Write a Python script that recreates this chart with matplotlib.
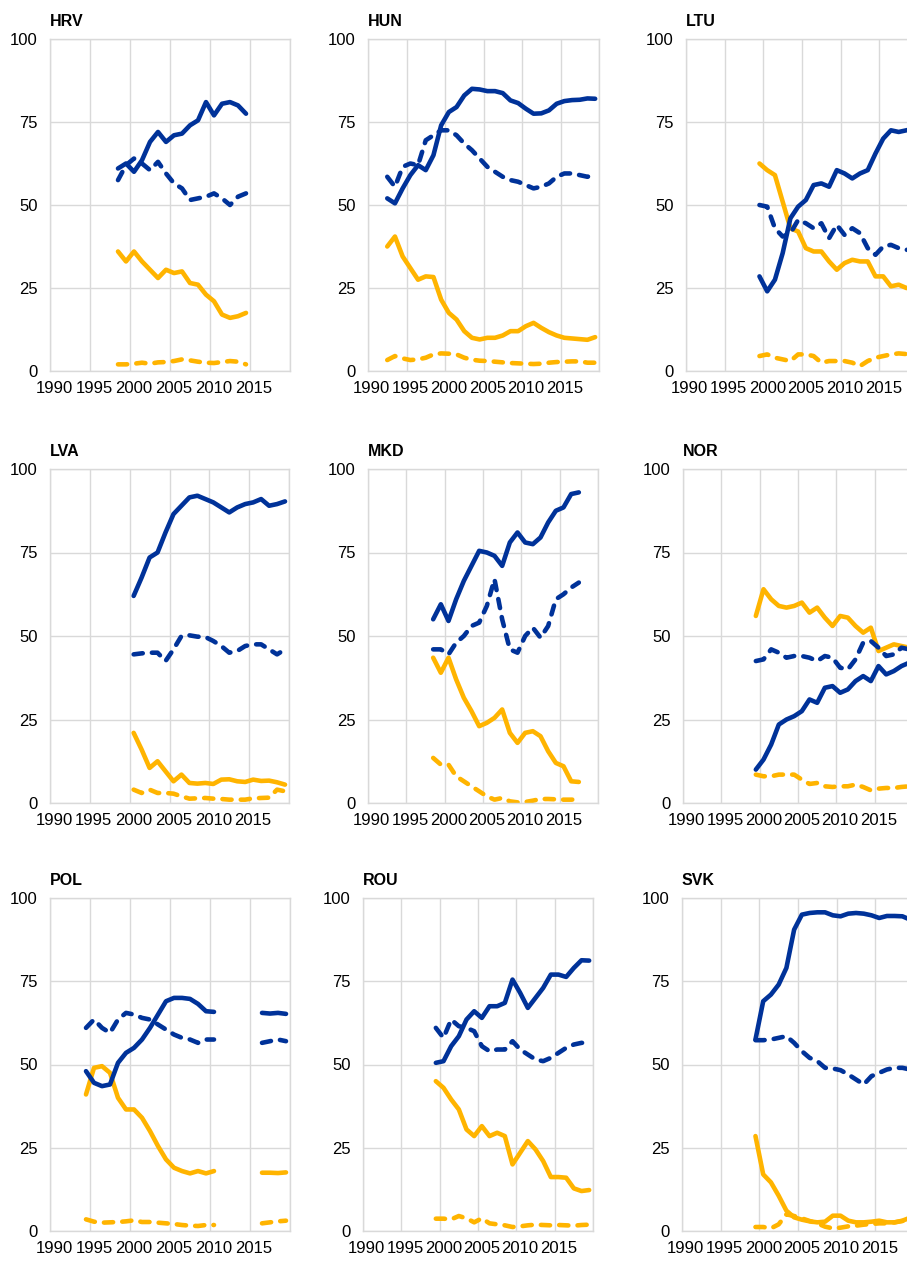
import numpy as np
import matplotlib
matplotlib.use("Agg")
import matplotlib.pyplot as plt
from matplotlib.ticker import FixedLocator

plt.rcParams['font.family'] = ['Liberation Sans', 'DejaVu Sans']

BLUE = '#003299'
YELLOW = '#FFB400'
GRID = '#d9d9d9'
nan = np.nan

# ---------------- data (annual, %) ----------------
countries = ['HRV', 'HUN', 'LTU', 'LVA', 'MKD', 'NOR', 'POL', 'ROU', 'SVK']
start_year = {'HRV': 1998, 'HUN': 1992, 'LTU': 1999, 'LVA': 2000, 'MKD': 1998,
              'NOR': 1999, 'POL': 1994, 'ROU': 1999, 'SVK': 1999}

HRV_blue_solid = [61, 62.5, 60, 63.5, 69, 72, 69, 71, 71.5, 74, 75.5, 81, 77, 80.5, 81, 80, 77.5]
HRV_blue_dash = [57.5, 62, 64, 62.5, 60.5, 63, 59.5, 56.5, 55, 51.5, 52, 52.5, 53.5, 52, 50, 52.5, 53.5]
HRV_yellow_solid = [36, 33, 36, 33, 30.5, 28, 30.5, 29.5, 30, 26.5, 26, 23, 21, 17, 16, 16.5, 17.5]
HRV_yellow_dash = [2, 2, 2.2, 2.5, 2.2, 2.6, 2.7, 3, 3.5, 3.2, 2.8, 2.5, 2.4, 2.7, 3, 2.8, 2.0]

HUN_blue_solid = [52, 50.5, 55, 59, 62, 60.5, 65, 74, 78, 79.5, 83, 85, 84.8, 84.3, 84.3, 83.7,
                  81.5, 80.7, 79, 77.5, 77.6, 78.5, 80.5, 81.3, 81.6, 81.7, 82.1, 82]
HUN_blue_dash = [58.5, 55.5, 61.5, 62.5, 62, 69.5, 71, 72.5, 72.5, 71, 68.5, 66.5, 64, 61.5, 60,
                 58.5, 57.5, 57, 56, 55, 55.5, 56.5, 58.5, 59.5, 59.5, 59, 58.5, 59.2]
HUN_yellow_solid = [37.5, 40.5, 34.5, 31, 27.5, 28.5, 28.3, 21.5, 17.5, 15.5, 12, 10, 9.5, 10, 10,
                    10.7, 12, 12, 13.5, 14.5, 13, 11.7, 10.7, 10, 9.8, 9.6, 9.4, 10.2]
HUN_yellow_dash = [3.3, 4.5, 3.8, 3.3, 3.5, 4, 5, 5.3, 5.2, 5, 4, 3.4, 3.1, 3, 2.8, 2.6, 2.4, 2.3,
                   2.2, 2.1, 2.2, 2.5, 2.7, 2.8, 2.9, 2.9, 2.5, 2.5]

LTU_blue_solid = [28.5, 24, 27.5, 35.5, 46, 49.5, 51.5, 56, 56.5, 55.5, 60.5, 59.5, 58, 59.5, 60.5,
                  65.5, 70, 72.5, 72, 72.5, 73]
LTU_blue_dash = [50, 49.5, 43, 40.5, 41.5, 45.5, 44.5, 43, 44.5, 40, 44, 41, 43, 41.5, 37, 35, 37.5,
                 38, 37, 36.5, 36.5]
LTU_yellow_solid = [62.5, 60.5, 59, 51, 43, 42, 37, 36, 36, 33, 30.5, 32.5, 33.5, 33, 33, 28.5, 28.5,
                    25.5, 26, 25, 25]
LTU_yellow_dash = [4.5, 5, 4, 3.5, 3, 5, 5, 4.5, 2.5, 3, 3, 3, 2.5, 1.5, 3, 4, 4.5, 5, 5.3, 5.1, 5]

LVA_blue_solid = [62, 67.5, 73.5, 75, 81, 86.5, 89, 91.5, 92, 91, 90, 88.5, 87, 88.5, 89.5, 90, 91,
                  89, 89.5, 90.3]
LVA_blue_dash = [44.5, 44.8, 45, 45, 42.5, 46, 50, 50.2, 49.8, 49.7, 48.5, 47, 45, 45.5, 47, 47.5,
                 47.5, 46, 44.5, 46]
LVA_yellow_solid = [21, 16, 10.5, 12.5, 9.5, 6.5, 8.5, 6, 5.8, 6, 5.7, 7, 7.1, 6.5, 6.3, 7, 6.6, 6.7,
                    6.2, 5.5]
LVA_yellow_dash = [4, 3, 4, 3, 3, 2.8, 2, 1.3, 1.4, 1.5, 1.3, 1.2, 1, 1, 1, 1.4, 1.5, 1.6, 4, 3.5]

MKD_blue_solid = [55, 59.5, 54.5, 61, 66.5, 71, 75.5, 75, 74, 71, 78, 81, 78, 77.5, 79.5, 84, 87.5,
                  88.5, 92.5, 93]
MKD_blue_dash = [46, 46, 44.5, 48, 50, 53, 54, 59, 67, 55, 46, 45, 50, 52.5, 49.5, 53, 61, 62.5,
                 64.5, 66]
MKD_yellow_solid = [43.5, 39, 43.5, 37, 31.5, 27.5, 23, 24, 25.5, 28, 21, 18, 21, 21.5, 20, 15.5, 12,
                    11, 6.5, 6.3]
MKD_yellow_dash = [13.5, 11.5, 11.5, 8, 6.5, 5, 3.5, 2, 1, 1.5, 0.5, 0.2, 0.3, 0.7, 1.2, 1.2, 1.1,
                   1, 1, 1.1]

NOR_blue_solid = [10, 13, 17.5, 23.5, 25, 26, 27.5, 31, 30, 34.5, 35, 33, 34, 36.5, 38, 36.5, 41,
                  38.5, 39.5, 41, 42]
NOR_blue_dash = [42.5, 43, 46, 45, 43.5, 44, 44, 43.5, 42.5, 44, 43.5, 40.5, 40, 43, 48, 48.5, 46.5,
                 44, 44.5, 46.5, 46]
NOR_yellow_solid = [56, 64, 61, 59, 58.5, 59, 60, 57, 58.5, 55.5, 53, 56, 55.5, 53, 51, 52.5, 45.5,
                    46.5, 47.5, 47, 46.5]
NOR_yellow_dash = [8.5, 8, 8, 8.5, 8.5, 8.5, 7, 5.7, 6, 5, 4.8, 5, 5, 5.5, 4.8, 3.8, 4.3, 4.5, 4.5,
                   4.8, 5]

POL_blue_solid = [48, 44.5, 43.5, 44, 50.5, 53.5, 55, 57.5, 61, 65, 69, 70, 70, 69.7, 68.2, 66, 65.8,
                  nan, nan, nan, nan, nan, 65.5, 65.3, 65.5, 65.2]
POL_blue_dash = [61, 63.5, 61, 59.5, 63.5, 65.5, 65, 64, 63.5, 62, 60.5, 59, 58, 57.5, 56.5, 57.5,
                 57.5, nan, nan, nan, nan, nan, 56.5, 57, 57.5, 57]
POL_yellow_solid = [41, 49, 49.5, 47.5, 40, 36.5, 36.5, 34, 30, 25.5, 21.5, 19, 18, 17.3, 18, 17.3,
                    18, nan, nan, nan, nan, nan, 17.5, 17.5, 17.4, 17.6]
POL_yellow_dash = [3.5, 2.8, 2.5, 2.6, 2.7, 2.9, 3.2, 2.7, 2.7, 2.5, 2.3, 2.1, 1.8, 1.6, 1.5, 1.8,
                   1.8, nan, nan, nan, nan, nan, 2.3, 2.6, 2.9, 3.1]

ROU_blue_solid = [50.5, 51, 55.5, 58.5, 63.5, 66, 64, 67.5, 67.5, 68.5, 75.5, 71.5, 67, 70, 73, 77,
                  77, 76.3, 79, 81.3, 81.2]
ROU_blue_dash = [61, 58, 63.5, 61.5, 61, 60, 55.5, 54, 54.5, 54.5, 57, 54.5, 53, 51.5, 51, 52, 53.5,
                 55, 56, 56.5, 56.5]
ROU_yellow_solid = [45, 43, 39.5, 36.5, 30.5, 28.5, 31.5, 28.5, 29.5, 28.5, 20, 23.5, 27, 24.5, 21,
                    16.2, 16.2, 16, 12.8, 12, 12.3]
ROU_yellow_dash = [3.7, 3.7, 3.5, 4.5, 3.8, 2.6, 3.8, 2.3, 2, 1.7, 1.2, 1.4, 1.7, 1.9, 1.8, 1.7, 1.8,
                   1.7, 1.6, 1.8, 1.9]

SVK_blue_solid = [57.5, 69, 71, 74, 79, 90.5, 95, 95.5, 95.7, 95.7, 94.8, 94.5, 95.3, 95.5, 95.3,
                  94.8, 94, 94.6, 94.6, 94.5, 93.5]
SVK_blue_dash = [57.3, 57.3, 57.5, 58, 58.5, 56.5, 54, 52, 51, 49, 48.8, 48.3, 47, 45.5, 44, 46.5,
                 47.5, 48.5, 49, 49, 48.5]
SVK_yellow_solid = [28.5, 17, 14.6, 10.6, 6.1, 4.1, 3.4, 2.9, 2.6, 2.8, 4.6, 4.6, 3.1, 2.6, 2.6, 2.8,
                    3.1, 2.6, 2.6, 3.1, 4]
SVK_yellow_dash = [1.2, 1.2, 0.8, 2.0, 5.0, 4.5, 3.8, 3, 2.3, 1.3, 0.8, 1, 1.4, 1.6, 1.9, 2.1, 2.3,
                   2.3, 2.6, 3, 3.3]

series = {
    'HRV': (HRV_blue_solid, HRV_blue_dash, HRV_yellow_solid, HRV_yellow_dash),
    'HUN': (HUN_blue_solid, HUN_blue_dash, HUN_yellow_solid, HUN_yellow_dash),
    'LTU': (LTU_blue_solid, LTU_blue_dash, LTU_yellow_solid, LTU_yellow_dash),
    'LVA': (LVA_blue_solid, LVA_blue_dash, LVA_yellow_solid, LVA_yellow_dash),
    'MKD': (MKD_blue_solid, MKD_blue_dash, MKD_yellow_solid, MKD_yellow_dash),
    'NOR': (NOR_blue_solid, NOR_blue_dash, NOR_yellow_solid, NOR_yellow_dash),
    'POL': (POL_blue_solid, POL_blue_dash, POL_yellow_solid, POL_yellow_dash),
    'ROU': (ROU_blue_solid, ROU_blue_dash, ROU_yellow_solid, ROU_yellow_dash),
    'SVK': (SVK_blue_solid, SVK_blue_dash, SVK_yellow_solid, SVK_yellow_dash),
}

x_ticks = [1990, 1995, 2000, 2005, 2010, 2015]
y_ticks = [0, 25, 50, 75, 100]

# ---------------- layout (pixels: left, top, right, bottom) ----------------
W, H = 907, 1261
boxes = {
    'HRV': (50, 39, 290, 371), 'HUN': (368, 39, 599, 371), 'LTU': (686, 39, 918, 371),
    'LVA': (50, 469, 289, 803), 'MKD': (368, 469, 598, 803), 'NOR': (683, 469, 913, 803),
    'POL': (50, 898, 290, 1231), 'ROU': (363, 898, 593, 1231), 'SVK': (682, 898, 914, 1231),
}

fig = plt.figure(figsize=(W / 100, H / 100), dpi=100)

styles = [(BLUE, '-'), (BLUE, '--'), (YELLOW, '-'), (YELLOW, '--')]

for c in countries:
    l, t, r, b = boxes[c]
    ax = fig.add_axes([l / W, 1 - b / H, (r - l) / W, (b - t) / H])
    vals = series[c]
    years = np.arange(start_year[c], start_year[c] + len(vals[0]))
    for idx in [3, 2, 1, 0]:
        color, ls = styles[idx]
        kw = dict(color=color, lw=3.3, solid_capstyle='round', solid_joinstyle='round',
                  dash_capstyle='round', dash_joinstyle='round')
        if ls == '--':
            ax.plot(years, vals[idx], dashes=(2.0, 2.0), **kw)
        else:
            ax.plot(years, vals[idx], ls='-', **kw)

    ax.set_xlim(1989.5, 2019.5)
    ax.set_ylim(0, 100)
    ax.set_xticks(x_ticks)
    ax.set_xticklabels([str(v) for v in x_ticks])
    ax.xaxis.set_minor_locator(FixedLocator([1989.5 + 5 * k for k in range(7)]))
    ax.set_yticks(y_ticks)
    ax.grid(False)
    ax.grid(True, which='minor', axis='x', color=GRID, lw=1.0)
    ax.grid(True, which='major', axis='y', color=GRID, lw=1.0)
    ax.set_axisbelow(True)
    ax.tick_params(which='both', length=0, labelsize=12, colors='#000000')
    ax.tick_params(axis='y', pad=9)
    ax.tick_params(axis='x', pad=7)
    for s in ax.spines.values():
        s.set_color(GRID)
        s.set_linewidth(1.0)
    ax.annotate(c, xy=(0, 1), xycoords='axes fraction', xytext=(0, 9.5),
                textcoords='offset points', ha='left', va='baseline',
                fontsize=11.5, fontweight='bold')

fig.savefig('out.png', dpi=100)
